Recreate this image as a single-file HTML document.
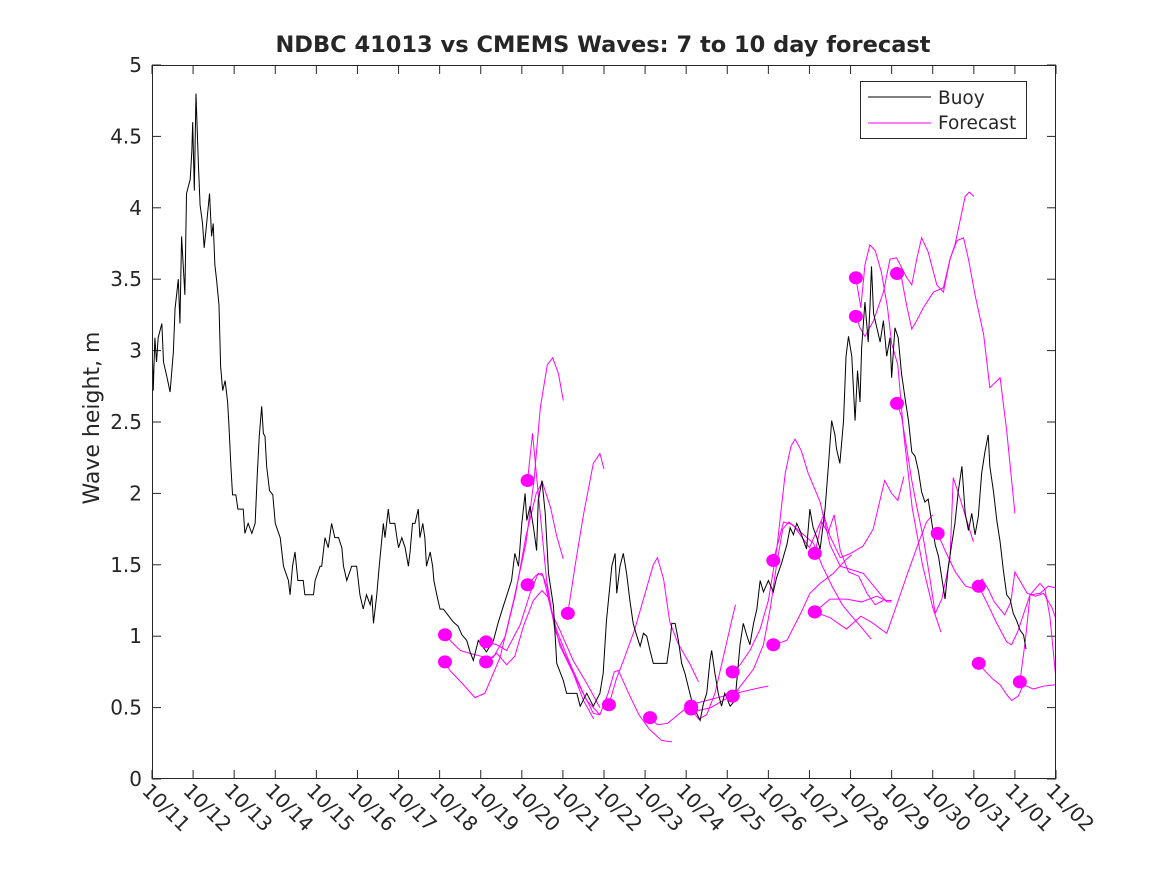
<!DOCTYPE html>
<html><head><meta charset="utf-8"><style>
body{margin:0;background:#fff;}
svg text{font-family:"DejaVu Sans","Liberation Sans",sans-serif;fill:#262626;}
</style></head><body>
<svg id="chart" width="1167" height="875" xmlns="http://www.w3.org/2000/svg">
<defs><clipPath id="clip"><rect x="152" y="65" width="904" height="714"/></clipPath></defs>
<rect x="0" y="0" width="1167" height="875" fill="#fff"/>
<text x="603" y="52" text-anchor="middle" font-size="22.5" font-weight="bold" fill="#000">NDBC 41013 vs CMEMS Waves: 7 to 10 day forecast</text>
<text transform="translate(99,418) rotate(-90)" text-anchor="middle" font-size="22">Wave height, m</text>
<g id="axes"></g>
<g id="series" clip-path="url(#clip)"></g>
<rect x="152.5" y="65.5" width="903" height="713" fill="none" stroke="#262626" stroke-width="1"/>
<g>
<rect x="860.5" y="81.5" width="166" height="57" fill="#fff" stroke="#262626"/>
<line x1="868" y1="97" x2="931" y2="97" stroke="#000"/>
<text x="938" y="104" font-size="18.5">Buoy</text>
<line x1="868" y1="123" x2="931" y2="123" stroke="#ff00ff"/>
<text x="938" y="129" font-size="18.5">Forecast</text>
</g>
</svg>
<script>
const dateLabels=["10/11","10/12","10/13","10/14","10/15","10/16","10/17","10/18","10/19","10/20","10/21","10/22","10/23","10/24","10/25","10/26","10/27","10/28","10/29","10/30","10/31","11/01","11/02"];
const yTicks=[0,0.5,1,1.5,2,2.5,3,3.5,4,4.5,5];
const buoyDays=[0,0.03,0.07,0.11,0.15,0.24,0.28,0.36,0.44,0.52,0.56,0.64,0.68,0.72,0.8,0.84,0.93,0.97,0.99,1.03,1.07,1.13,1.17,1.23,1.27,1.33,1.4,1.45,1.49,1.53,1.57,1.63,1.67,1.72,1.78,1.84,1.87,1.92,1.96,2.04,2.09,2.22,2.26,2.34,2.43,2.51,2.56,2.61,2.67,2.71,2.75,2.79,2.86,2.94,3.0,3.12,3.2,3.32,3.36,3.42,3.48,3.55,3.68,3.72,3.93,3.97,4.09,4.13,4.21,4.29,4.37,4.45,4.54,4.62,4.66,4.74,4.86,4.98,5.06,5.14,5.22,5.31,5.35,5.39,5.47,5.53,5.63,5.67,5.71,5.75,5.79,5.91,5.96,6.0,6.08,6.16,6.24,6.28,6.34,6.4,6.48,6.52,6.59,6.64,6.68,6.77,6.83,6.86,6.93,7.01,7.09,7.17,7.33,7.45,7.54,7.66,7.74,7.82,7.94,8.14,8.31,8.43,8.55,8.65,8.75,8.83,8.92,9.0,9.08,9.12,9.2,9.28,9.36,9.4,9.49,9.57,9.65,9.77,9.85,10.01,10.09,10.34,10.42,10.58,10.74,10.9,10.98,11.06,11.19,11.27,11.31,11.39,11.47,11.55,11.63,11.71,11.8,11.88,11.96,12.04,12.12,12.2,12.53,12.61,12.65,12.73,12.81,12.89,12.97,13.09,13.17,13.34,13.42,13.5,13.58,13.62,13.7,13.78,13.86,13.94,14.07,14.19,14.31,14.39,14.47,14.55,14.64,14.72,14.8,14.88,15.0,15.12,15.2,15.32,15.45,15.53,15.61,15.69,15.77,15.93,16.01,16.09,16.18,16.26,16.38,16.46,16.54,16.62,16.66,16.74,16.83,16.89,16.95,17.03,17.11,17.17,17.23,17.27,17.35,17.43,17.47,17.51,17.56,17.64,17.72,17.8,17.88,17.96,18.0,18.08,18.16,18.24,18.33,18.41,18.49,18.57,18.65,18.73,18.81,18.89,18.97,19.06,19.14,19.22,19.3,19.38,19.46,19.54,19.62,19.71,19.79,19.87,19.95,20.03,20.11,20.19,20.27,20.35,20.39,20.48,20.56,20.64,20.72,20.8,20.88,20.96,21.04,21.13,21.21,21.27];
const buoyValues=[3.09,2.72,3.09,2.92,3.09,3.19,2.92,2.82,2.71,2.99,3.29,3.5,3.19,3.8,3.39,4.1,4.2,4.4,4.6,4.12,4.8,4.3,4.02,3.89,3.72,3.89,4.1,3.8,3.89,3.6,3.5,3.32,2.89,2.72,2.79,2.64,2.49,2.19,1.99,1.99,1.89,1.89,1.72,1.79,1.72,1.79,2.12,2.4,2.61,2.42,2.4,2.19,2.02,1.99,1.79,1.69,1.49,1.39,1.29,1.49,1.59,1.39,1.39,1.29,1.29,1.39,1.49,1.49,1.69,1.62,1.79,1.69,1.69,1.62,1.49,1.39,1.49,1.49,1.29,1.19,1.29,1.22,1.29,1.09,1.29,1.49,1.79,1.69,1.79,1.89,1.79,1.79,1.69,1.62,1.69,1.62,1.49,1.59,1.79,1.79,1.89,1.69,1.79,1.69,1.49,1.59,1.49,1.39,1.29,1.19,1.19,1.16,1.1,1.07,1.01,0.97,0.89,0.83,0.97,0.89,0.97,1.1,1.21,1.3,1.39,1.58,1.49,1.79,2.0,1.81,1.91,1.77,1.6,1.95,2.09,1.86,1.44,1.21,0.81,0.69,0.6,0.6,0.51,0.6,0.51,0.6,0.74,1.11,1.49,1.58,1.3,1.49,1.58,1.44,1.25,1.09,1.0,0.93,1.02,1.0,0.9,0.81,0.81,0.97,1.09,1.09,0.97,0.81,0.74,0.6,0.51,0.41,0.53,0.6,0.83,0.9,0.74,0.6,0.51,0.6,0.51,0.55,0.94,1.09,1.01,0.94,1.09,1.19,1.39,1.31,1.39,1.31,1.41,1.51,1.64,1.76,1.71,1.79,1.74,1.61,1.89,1.76,1.69,1.61,1.89,2.19,2.51,2.41,2.31,2.21,2.51,2.96,3.1,2.96,2.51,2.86,2.64,3.02,3.34,3.06,3.29,3.59,3.26,3.16,3.06,3.21,2.96,3.09,2.81,3.16,3.09,2.84,2.66,2.51,2.29,2.26,2.16,2.01,1.94,1.96,1.81,1.64,1.56,1.41,1.26,1.49,1.64,1.79,2.01,2.19,1.86,1.74,1.86,1.71,1.84,2.14,2.29,2.41,2.19,2.01,1.81,1.66,1.46,1.29,1.26,1.16,1.11,1.04,1.01,0.91];
const fcDays=[
[7.13,7.29,7.5,7.74,8.0,8.3,8.6,8.85,9.1,9.35,9.5,9.7,9.85,10.01],
[7.13,7.25,7.58,7.86,8.1,8.47,8.8,9.1,9.3,9.45,9.62,9.75,9.89,10.01],
[8.13,8.39,8.63,8.96,9.2,9.4,9.52,9.69,9.93,10.25,10.58,10.9,11.1,11.25,11.35,11.6,11.85,12.1,12.4,12.65],
[8.13,8.39,8.63,8.83,9.04,9.28,9.49,9.65,9.85,10.17,10.5,10.74,10.9],
[9.14,9.26,9.4,9.6,9.8,10.0,10.2,10.5,10.75],
[9.14,9.36,9.49,9.61,9.73,9.93,10.25,10.58,10.9],
[10.12,10.3,10.5,10.74,10.9,11.0],
[11.12,11.3,11.5,11.75,12.0,12.2,12.3,12.45,12.6,12.8,13.1,13.3],
[12.12,12.3,12.55,12.8,13.1,13.5,13.9,14.3],
[13.12,13.3,13.5,13.7,13.9,14.1,14.2],
[13.12,13.3,13.6,13.9,14.2,14.5,14.8,15.0],
[14.13,14.31,14.55,14.8,15.0,15.2,15.41,15.55,15.65,15.8,15.97,16.26,16.5,16.75,17.31,17.88,18.0],
[14.13,14.4,14.64,14.88,15.05,15.2,15.35,15.5,15.7,15.9,16.1,16.3,16.55,16.8,17.0,17.3,17.5],
[15.12,15.37,15.6,15.85,16.0,16.15,16.35,16.5,16.75,17.0,17.3,17.55,17.83,18.0,18.15,18.3],
[15.12,15.45,15.77,16.01,16.26,16.58,16.9,17.03],
[16.13,16.3,16.45,16.6,16.75,16.95,17.2,17.4,17.6,17.8],
[16.13,16.5,16.9,17.27,17.64,17.85,18.0],
[16.13,16.5,16.9,17.25,17.5,17.88,18.1,18.4,18.65,18.85,19.0],
[17.13,17.25,17.35,17.47,17.6,17.75,17.9,18.0,18.15,18.3,18.5,18.75,19.0,19.2],
[17.13,17.23,17.35,17.56,17.8,17.96,18.12,18.37,18.49,18.61,18.73,18.89,19.1,19.26,19.42,19.59,19.75,19.87,20.03,20.24,20.39,20.64,20.8,21.0],
[18.13,18.24,18.37,18.49,18.61,18.77,19.02,19.26,19.42,19.54,19.79,19.89,20.0],
[18.13,18.24,18.37,18.49,18.61,18.77,18.94,19.06,19.22,19.42,19.5,19.67,19.99],
[19.12,19.3,19.55,19.8,20.05,20.2,20.35,20.5,20.75,20.9,21.0,21.1,21.3,21.5,21.7,21.9,22.0],
[20.12,20.31,20.56,20.8,20.92,21.08,21.25,21.37,21.61,21.81,21.98],
[20.12,20.26,20.46,20.64,20.8,20.92,21.08,21.21,21.45,21.69,21.98],
[21.12,21.25,21.37,21.61,21.73,21.85,22.0]
];
const fcVals=[
[1.01,0.96,0.9,0.88,0.86,0.85,1.0,1.3,1.7,2.0,2.08,1.9,1.7,1.54],
[0.82,0.76,0.66,0.57,0.6,0.85,1.25,1.65,2.1,2.6,2.9,2.95,2.84,2.65],
[0.96,0.94,0.9,1.08,1.3,1.44,1.42,1.21,0.93,0.74,0.55,0.45,0.6,0.75,0.76,0.6,0.45,0.35,0.27,0.26],
[0.82,0.88,0.8,0.86,1.07,1.25,1.32,1.27,1.04,0.81,0.6,0.46,0.45],
[2.09,2.42,2.0,1.4,1.05,0.9,0.78,0.55,0.42],
[1.36,1.43,1.44,1.35,1.16,1.04,0.83,0.67,0.5],
[1.16,1.5,1.85,2.21,2.28,2.17],
[0.52,0.7,0.85,1.05,1.3,1.5,1.55,1.4,1.1,0.95,0.8,0.68],
[0.43,0.38,0.39,0.45,0.52,0.55,0.58,0.62],
[0.49,0.42,0.45,0.6,0.85,1.1,1.22],
[0.51,0.48,0.5,0.55,0.6,0.62,0.64,0.65],
[0.75,0.8,0.9,1.05,1.25,1.6,2.14,2.33,2.38,2.3,2.14,1.94,1.64,1.49,1.44,1.24,1.24],
[0.58,0.68,0.77,0.94,1.2,1.5,1.75,1.8,1.75,1.7,1.65,1.5,1.35,1.22,1.15,1.05,0.98],
[1.53,1.8,1.78,1.68,1.62,1.72,1.85,1.7,1.55,1.58,1.63,1.75,2.09,2.0,1.95,2.12],
[0.94,0.97,1.15,1.3,1.37,1.44,1.54,1.57],
[1.58,1.8,1.72,1.85,1.6,1.45,1.42,1.3,1.22,1.25],
[1.17,1.26,1.26,1.24,1.28,1.25,1.25],
[1.17,1.13,1.05,1.14,1.1,1.02,1.2,1.45,1.65,1.8,1.85],
[3.51,3.3,3.6,3.74,3.7,3.55,3.3,3.05,2.9,2.4,1.9,1.5,1.2,1.03],
[3.24,3.16,3.1,3.21,3.41,3.64,3.65,3.51,3.46,3.64,3.79,3.69,3.46,3.41,3.64,3.77,3.79,3.64,3.39,3.11,2.74,2.81,2.44,1.86],
[3.54,3.51,3.31,3.15,3.21,3.3,3.41,3.44,3.64,3.74,4.08,4.11,4.08],
[2.63,2.54,2.31,2.09,1.91,1.69,1.39,1.16,1.26,1.54,2.11,1.96,1.66],
[1.72,1.6,1.45,1.35,1.33,1.4,1.33,1.24,1.15,1.24,1.45,1.4,1.3,1.28,1.3,1.2,1.12],
[1.35,1.24,1.09,0.96,0.94,1.04,1.19,1.29,1.3,1.35,1.34],
[0.81,0.76,0.7,0.66,0.59,0.55,0.58,0.66,0.63,0.65,0.66],
[0.68,0.96,1.29,1.37,1.33,1.14,0.7]
];
const NS="http://www.w3.org/2000/svg";
const X0=152,X1=1056,Y0=779,Y1=65;
const xs=d=>X0+(X1-X0)*d/22;
const ys=v=>Y0-(Y0-Y1)*v/5;
function mk(tag,attrs,parent){const e=document.createElementNS(NS,tag);for(const k in attrs)e.setAttribute(k,attrs[k]);parent.appendChild(e);return e;}
const axes=document.getElementById('axes'),ser=document.getElementById('series');
yTicks.forEach(v=>{const y=ys(v);
 const t=mk('line',{x1:152,x2:161,y1:y,y2:y,stroke:'#262626'},axes);
 
 
 const t2=mk('line',{x1:1047,x2:1056,y1:y,y2:y,stroke:'#262626'},axes);
 
 
 const l=mk('text',{x:142,y:y+7,'text-anchor':'end','font-size':20},axes);l.textContent=String(v);
 
 
});
dateLabels.forEach((s,i)=>{const x=xs(i);
 const t=mk('line',{x1:x,x2:x,y1:770,y2:779,stroke:'#262626'},axes);
 
 
 const t2=mk('line',{x1:x,x2:x,y1:65,y2:74,stroke:'#262626'},axes);
 
 
 const l=mk('text',{transform:`translate(${x-11},${792}) rotate(45)`,'font-size':20},axes);l.textContent=s;
 
 
});
fcVals.forEach((arr,k)=>{const dd=fcDays[k];
 const p=mk('polyline',{points:arr.map((v,j)=>xs(dd[j])+','+ys(v)).join(' '),fill:'none',stroke:'#ff00ff','stroke-width':1},ser);
 
 
});
const b=mk('polyline',{points:buoyValues.map((v,j)=>xs(buoyDays[j])+','+ys(v)).join(' '),fill:'none',stroke:'#000','stroke-width':1},ser);


fcVals.forEach((arr,k)=>{
 const c=mk('ellipse',{cx:xs(fcDays[k][0]),cy:ys(arr[0]),rx:7,ry:6.5,fill:'#ff00ff'},ser);
 
 
});
</script>
</body></html>
